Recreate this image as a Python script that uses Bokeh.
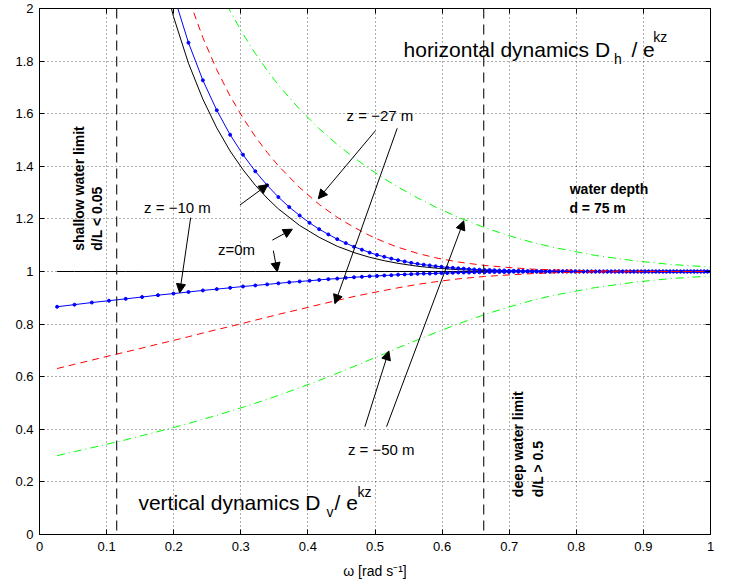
import math
from bokeh.plotting import figure
from bokeh.models import (Range1d, FixedTicker, CustomJSTickFormatter, LinearAxis,
                          Span, Label, Arrow, NormalHead)
from bokeh.embed import file_html
from bokeh.resources import INLINE

# ---------------- data ----------------
# fine sampling (blue z = -10 m curves, drawn with markers)
omega_fine = [0.0262, 0.0522, 0.0780, 0.1035, 0.1285, 0.1529, 0.1766, 0.1997, 0.2220, 0.2435,
              0.2642, 0.2841, 0.3033, 0.3216, 0.3392, 0.3560, 0.3722, 0.3877, 0.4025, 0.4168,
              0.4305, 0.4437, 0.4564, 0.4687, 0.4805, 0.4920, 0.5030, 0.5138, 0.5243, 0.5344,
              0.5443, 0.5540, 0.5634, 0.5726, 0.5816, 0.5904, 0.5991, 0.6076, 0.6159, 0.6241,
              0.6322, 0.6401, 0.6479, 0.6556, 0.6632, 0.6707, 0.6781, 0.6854, 0.6926, 0.6997,
              0.7068, 0.7137, 0.7206, 0.7275, 0.7342, 0.7409, 0.7475, 0.7541, 0.7606, 0.7670,
              0.7734, 0.7798, 0.7860, 0.7923, 0.7984, 0.8046, 0.8107, 0.8167, 0.8227, 0.8286,
              0.8346, 0.8404, 0.8462, 0.8520, 0.8578, 0.8635, 0.8691, 0.8747, 0.8803, 0.8859,
              0.8914, 0.8969, 0.9024, 0.9078, 0.9132, 0.9185, 0.9238, 0.9291, 0.9344, 0.9396,
              0.9448, 0.9500, 0.9552, 0.9603, 0.9654, 0.9704, 0.9755, 0.9805, 0.9855, 0.9905,
              0.9954, 1.0003]
z10_vertical = [0.866, 0.874, 0.882, 0.889, 0.896, 0.903, 0.910, 0.916, 0.922, 0.928,
                0.933, 0.938, 0.943, 0.947, 0.951, 0.955, 0.959, 0.962, 0.965, 0.968,
                0.971, 0.973, 0.976, 0.978, 0.980, 0.982, 0.983, 0.985, 0.986, 0.988,
                0.989, 0.990, 0.991, 0.992, 0.992, 0.993, 0.994, 0.994, 0.995, 0.996,
                0.996, 0.996, 0.997, 0.997, 0.997, 0.998, 0.998, 0.998, 0.998, 0.998,
                0.999, 0.999, 0.999, 0.999, 0.999, 0.999, 0.999, 0.999, 0.999, 1.000,
                1.000, 1.000, 1.000, 1.000, 1.000, 1.000, 1.000, 1.000, 1.000, 1.000,
                1.000, 1.000, 1.000, 1.000, 1.000, 1.000, 1.000, 1.000, 1.000, 1.000,
                1.000, 1.000, 1.000, 1.000, 1.000, 1.000, 1.000, 1.000, 1.000, 1.000,
                1.000, 1.000, 1.000, 1.000, 1.000, 1.000, 1.000, 1.000, 1.000, 1.000,
                1.000, 1.000]
z10_horizontal = [14.444, 7.316, 4.950, 3.775, 3.077, 2.616, 2.292, 2.053, 1.870, 1.727,
                  1.613, 1.520, 1.444, 1.381, 1.328, 1.283, 1.245, 1.213, 1.185, 1.161,
                  1.141, 1.123, 1.108, 1.094, 1.083, 1.072, 1.063, 1.056, 1.049, 1.043,
                  1.038, 1.033, 1.029, 1.026, 1.023, 1.020, 1.018, 1.015, 1.014, 1.012,
                  1.011, 1.009, 1.008, 1.007, 1.006, 1.006, 1.005, 1.004, 1.004, 1.003,
                  1.003, 1.003, 1.002, 1.002, 1.002, 1.002, 1.001, 1.001, 1.001, 1.001,
                  1.001, 1.001, 1.001, 1.001, 1.000, 1.000, 1.000, 1.000, 1.000, 1.000,
                  1.000, 1.000, 1.000, 1.000, 1.000, 1.000, 1.000, 1.000, 1.000, 1.000,
                  1.000, 1.000, 1.000, 1.000, 1.000, 1.000, 1.000, 1.000, 1.000, 1.000,
                  1.000, 1.000, 1.000, 1.000, 1.000, 1.000, 1.000, 1.000, 1.000, 1.000,
                  1.000, 1.000]

# coarser sampling (z = 0, -27, -50 m curves)
omega = [0.0262, 0.0522, 0.0780, 0.1035, 0.1285, 0.1529, 0.1766, 0.1997, 0.2220, 0.2435,
         0.2642, 0.2841, 0.3033, 0.3216, 0.3392, 0.3560, 0.3877, 0.4168, 0.4437, 0.4687,
         0.4920, 0.5138, 0.5344, 0.5634, 0.5904, 0.6241, 0.6632, 0.6997, 0.7342, 0.7670,
         0.8286, 0.8859, 0.9396, 1.0003]
z0_vertical = [1.0] * 34
z0_horizontal = [14.31, 7.189, 4.832, 3.664, 2.973, 2.519, 2.202, 1.969, 1.792, 1.655,
                 1.546, 1.458, 1.387, 1.328, 1.279, 1.238, 1.175, 1.130, 1.096, 1.072,
                 1.054, 1.041, 1.031, 1.020, 1.013, 1.007, 1.004, 1.002, 1.001, 1.000,
                 1.000, 1.000, 1.000, 1.000]
z27_vertical = [0.631, 0.647, 0.663, 0.679, 0.694, 0.709, 0.724, 0.738, 0.752, 0.766,
                0.779, 0.791, 0.803, 0.815, 0.826, 0.837, 0.856, 0.874, 0.890, 0.905,
                0.917, 0.928, 0.938, 0.951, 0.961, 0.972, 0.981, 0.987, 0.992, 0.995,
                0.998, 0.999, 1.000, 1.000]
z27_horizontal = [14.68, 7.542, 5.169, 3.985, 3.279, 2.810, 2.478, 2.230, 2.040, 1.889,
                  1.767, 1.667, 1.584, 1.513, 1.453, 1.402, 1.319, 1.255, 1.206, 1.168,
                  1.137, 1.112, 1.092, 1.069, 1.052, 1.036, 1.023, 1.015, 1.009, 1.006,
                  1.003, 1.001, 1.000, 1.000]
z50_vertical = [0.300, 0.315, 0.330, 0.345, 0.360, 0.376, 0.391, 0.407, 0.422, 0.438,
                0.453, 0.469, 0.484, 0.499, 0.514, 0.529, 0.558, 0.586, 0.613, 0.639,
                0.664, 0.687, 0.710, 0.740, 0.768, 0.801, 0.836, 0.865, 0.890, 0.910,
                0.939, 0.959, 0.973, 0.983]
z50_horizontal = [15.01, 7.875, 5.502, 4.319, 3.613, 3.144, 2.811, 2.562, 2.370, 2.217,
                  2.093, 1.990, 1.903, 1.829, 1.765, 1.709, 1.617, 1.543, 1.483, 1.433,
                  1.390, 1.353, 1.321, 1.280, 1.245, 1.206, 1.167, 1.136, 1.111, 1.091,
                  1.061, 1.041, 1.027, 1.017]

limit_omega = [0.115, 0.662]   # shallow / deep water limits

x_ticks = [0, 0.1, 0.2, 0.3, 0.4, 0.5, 0.6, 0.7, 0.8, 0.9, 1.0]
y_ticks = [0, 0.2, 0.4, 0.6, 0.8, 1.0, 1.2, 1.4, 1.6, 1.8, 2.0]

FONT = "Liberation Sans"

# ---------------- figure ----------------
p = figure(width=735, height=585, x_range=Range1d(0, 1), y_range=Range1d(0, 2),
           output_backend="svg", toolbar_location=None,
           min_border_left=39, min_border_right=25, min_border_top=8, min_border_bottom=51)
p.background_fill_color = "white"
p.border_fill_color = "white"
p.outline_line_color = "black"
p.outline_line_width = 1
p.outline_line_alpha = 1

fmt = CustomJSTickFormatter(code="return Number(tick.toFixed(2)).toString();")
for ax, ticks in ((p.xaxis[0], x_ticks), (p.yaxis[0], y_ticks)):
    ax.ticker = FixedTicker(ticks=ticks)
    ax.formatter = fmt
    ax.major_tick_in = 5
    ax.major_tick_out = 0
    ax.minor_tick_in = 0
    ax.minor_tick_out = 0
    ax.axis_line_color = "black"
    ax.major_tick_line_color = "black"
    ax.major_label_text_font = FONT
    ax.major_label_text_font_size = "13px"
    ax.major_label_text_color = "black"
p.xaxis[0].major_label_standoff = 7
p.yaxis[0].major_label_standoff = 6
p.xaxis[0].axis_label = "ω [rad s⁻¹]"
p.xaxis[0].axis_label_text_font = FONT
p.xaxis[0].axis_label_text_font_size = "14px"
p.xaxis[0].axis_label_text_font_style = "normal"
p.xaxis[0].axis_label_text_color = "black"
p.xaxis[0].axis_label_standoff = 9

blank = CustomJSTickFormatter(code="return '';")
for loc, ticks in (("above", x_ticks), ("right", y_ticks)):
    ax = LinearAxis(ticker=FixedTicker(ticks=ticks), formatter=blank,
                    major_tick_in=5, major_tick_out=0, minor_tick_in=0, minor_tick_out=0,
                    major_label_standoff=0, major_label_text_font_size="0px",
                    axis_line_color="black", major_tick_line_color="black")
    p.add_layout(ax, loc)

p.xgrid.ticker = FixedTicker(ticks=x_ticks)
p.ygrid.ticker = FixedTicker(ticks=y_ticks)
for g in (p.xgrid[0], p.ygrid[0]):
    g.grid_line_color = "#333333"
    g.grid_line_dash = "1 3"
    g.grid_line_width = 1
    g.grid_line_alpha = 0.8

# limit lines
for lo in limit_omega:
    p.add_layout(Span(location=lo, dimension="height", line_color="#222222",
                      line_dash="10 6", line_width=1.2))

# curves
p.line(omega, z0_vertical, line_color="black", line_width=1)
p.line(omega, z0_horizontal, line_color="black", line_width=1)

p.line(omega_fine, z10_vertical, line_color="#0000ff", line_width=1)
p.line(omega_fine, z10_horizontal, line_color="#0000ff", line_width=1)
p.scatter(omega_fine, z10_vertical, marker="circle", size=3, fill_color="#0000ff", line_color="#0000ff")
p.scatter(omega_fine, z10_horizontal, marker="circle", size=3, fill_color="#0000ff", line_color="#0000ff")

p.line(omega, z27_vertical, line_color="#ff0000", line_width=1, line_dash="7 5")
p.line(omega, z27_horizontal, line_color="#ff0000", line_width=1, line_dash="7 5")

p.line(omega, z50_vertical, line_color="#00ff00", line_width=1, line_dash="8 4 1 4")
p.line(omega, z50_horizontal, line_color="#00ff00", line_width=1, line_dash="8 4 1 4")


def lab(x, y, text, size="15px", style="normal", angle=0.0):
    p.add_layout(Label(x=x, y=y, text=text, text_font=FONT, text_font_size=size,
                       text_font_style=style, text_color="black", angle=angle,
                       text_align="left", text_baseline="alphabetic"))


# titles with sub/superscripts
lab(0.5425, 1.846, "horizontal dynamics D", size="21px")
lab(0.8560, 1.809, "h", size="14px")
lab(0.8821, 1.846, "/ e", size="21px")
lab(0.9148, 1.891, "kz", size="14px")

lab(0.1474, 0.120, "vertical dynamics D", size="21px")
lab(0.4278, 0.086, "v", size="14px")
lab(0.4398, 0.120, "/ e", size="21px")
lab(0.4740, 0.161, "kz", size="14px")

# depth labels
lab(0.4576, 1.595, "z = −27 m")
lab(0.1558, 1.245, "z = −10 m")
lab(0.2660, 1.085, "z=0m")
lab(0.4596, 0.322, "z = −50 m")

lab(0.7902, 1.312, "water depth", size="14px", style="bold")
lab(0.7897, 1.243, "d = 75 m", size="14px", style="bold")

lab(0.0590, 1.079, "shallow water limit", size="14px", style="bold", angle=math.pi / 2)
lab(0.0864, 1.079, "d/L < 0.05", size="14px", style="bold", angle=math.pi / 2)
lab(0.7133, 0.142, "deep water limit", size="14px", style="bold", angle=math.pi / 2)
lab(0.7425, 0.142, "d/L > 0.5", size="14px", style="bold", angle=math.pi / 2)

# arrows
arrows = [
    (0.2987, 1.2528, 0.3404, 1.3306),
    (0.2253, 1.2049, 0.2089, 0.9185),
    (0.3470, 1.1192, 0.3768, 1.1608),
    (0.3485, 1.0792, 0.3544, 0.9990),
    (0.5008, 1.5358, 0.4155, 1.2766),
    (0.5331, 1.5445, 0.4402, 0.8777),
    (0.4849, 0.4098, 0.5206, 0.6981),
    (0.5172, 0.4098, 0.6323, 1.1925),
]
for xs, ys, xe, ye in arrows:
    p.add_layout(Arrow(end=NormalHead(size=9, fill_color="black", line_color="black"),
                       x_start=xs, y_start=ys, x_end=xe, y_end=ye,
                       line_color="black", line_width=1))

open("out.html", "w").write(file_html(p, INLINE))
